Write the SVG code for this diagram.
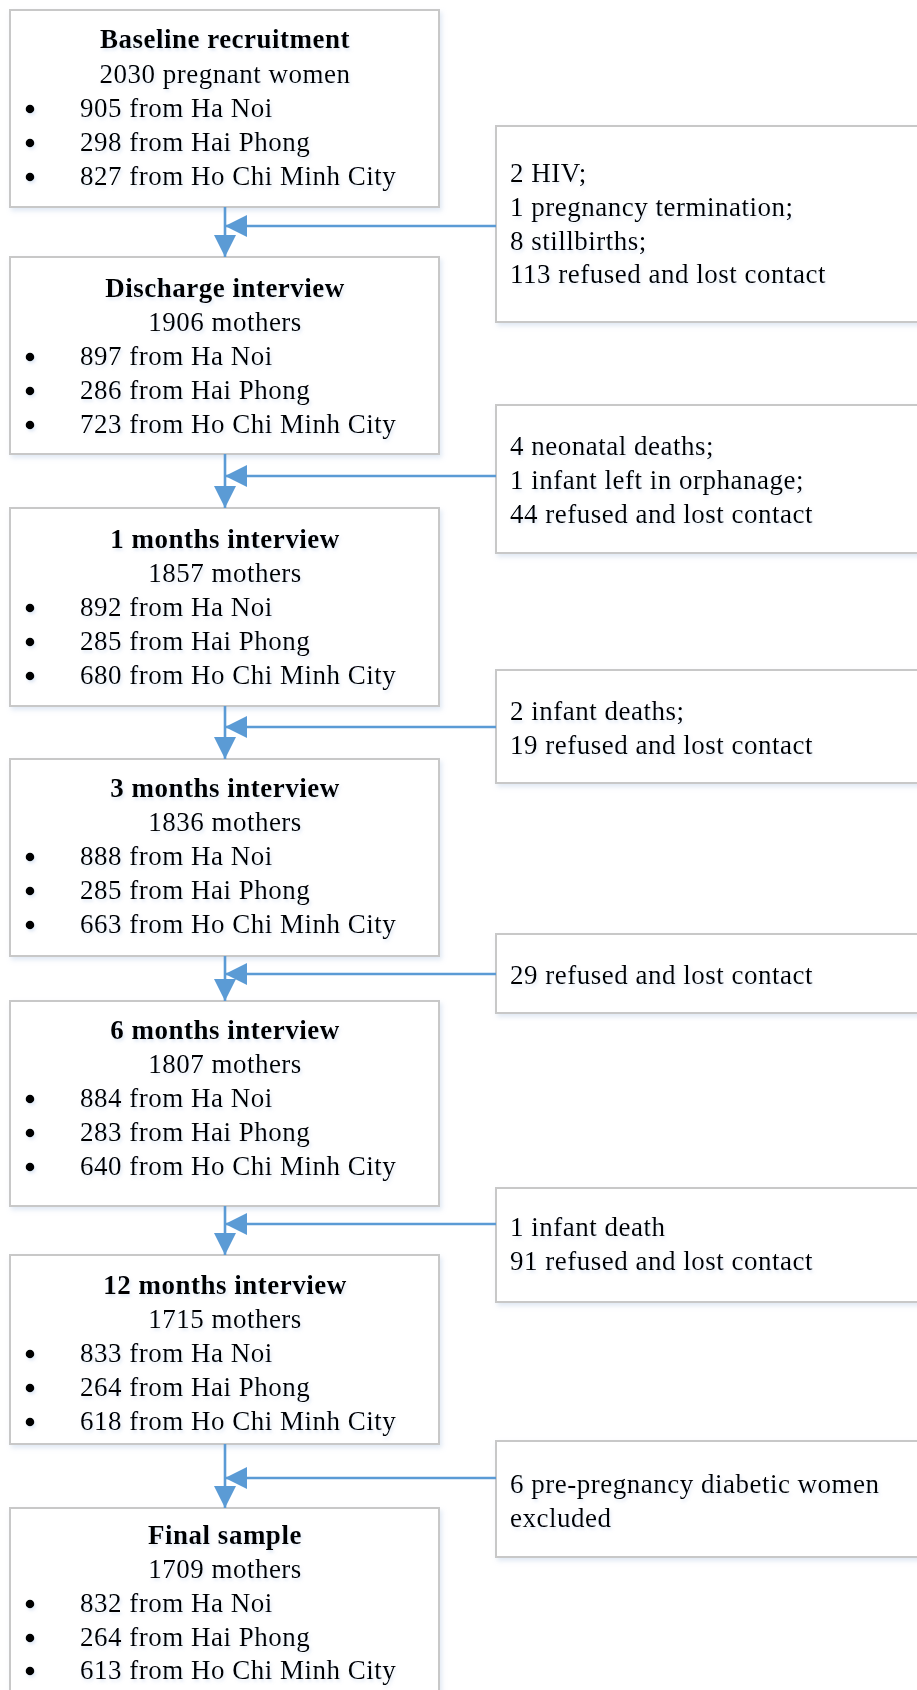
<svg xmlns="http://www.w3.org/2000/svg" width="917" height="1690" viewBox="0 0 917 1690">
<defs>
<filter id="sh" x="-5%" y="-5%" width="115%" height="115%">
<feDropShadow dx="2" dy="3" stdDeviation="2.5" flood-color="#a9c0e0" flood-opacity="0.35"/>
</filter>
<filter id="tsh" x="-5%" y="-20%" width="110%" height="150%">
<feDropShadow dx="1.5" dy="2.5" stdDeviation="1.5" flood-color="#9db8de" flood-opacity="0.3"/>
</filter>
<marker id="ah" viewBox="0 0 22 22" refX="22" refY="11" markerWidth="22" markerHeight="22" markerUnits="userSpaceOnUse" orient="auto">
<path d="M0,0 L22,11 L0,22 Z" fill="#5b9bd5"/>
</marker>
</defs>
<style>
.box{fill:#ffffff;stroke:#c8c8c8;stroke-width:2;filter:url(#sh)}
text{font-family:"Liberation Serif","Times New Roman",serif;font-size:27px;fill:#000;letter-spacing:0.5px}
.t{font-weight:bold;text-anchor:middle}
.c{text-anchor:middle}
.tx{filter:url(#tsh)}
.b{fill:#000}
.ln{stroke:#5b9bd5;stroke-width:2.6;fill:none}
</style>
<rect width="917" height="1690" fill="#ffffff"/>

<g id="baseline">
<rect class="box" x="10" y="10" width="429" height="197"/>
<g class="tx">
<text class="t" x="225" y="48">Baseline recruitment</text>
<text class="c" x="225" y="83">2030 pregnant women</text>
<circle class="b" cx="30" cy="109" r="4.3"/><text x="80" y="117">905 from Ha Noi</text>
<circle class="b" cx="30" cy="143" r="4.3"/><text x="80" y="151">298 from Hai Phong</text>
<circle class="b" cx="30" cy="177" r="4.3"/><text x="80" y="185">827 from Ho Chi Minh City</text>
</g>
</g>

<g id="discharge">
<rect class="box" x="10" y="257" width="429" height="197"/>
<g class="tx">
<text class="t" x="225" y="297">Discharge interview</text>
<text class="c" x="225" y="331">1906 mothers</text>
<circle class="b" cx="30" cy="357" r="4.3"/><text x="80" y="365">897 from Ha Noi</text>
<circle class="b" cx="30" cy="391" r="4.3"/><text x="80" y="399">286 from Hai Phong</text>
<circle class="b" cx="30" cy="425" r="4.3"/><text x="80" y="433">723 from Ho Chi Minh City</text>
</g>
</g>

<g id="m1">
<rect class="box" x="10" y="508" width="429" height="198"/>
<g class="tx">
<text class="t" x="225" y="548">1 months interview</text>
<text class="c" x="225" y="582">1857 mothers</text>
<circle class="b" cx="30" cy="608" r="4.3"/><text x="80" y="616">892 from Ha Noi</text>
<circle class="b" cx="30" cy="642" r="4.3"/><text x="80" y="650">285 from Hai Phong</text>
<circle class="b" cx="30" cy="676" r="4.3"/><text x="80" y="684">680 from Ho Chi Minh City</text>
</g>
</g>

<g id="m3">
<rect class="box" x="10" y="759" width="429" height="197"/>
<g class="tx">
<text class="t" x="225" y="797">3 months interview</text>
<text class="c" x="225" y="831">1836 mothers</text>
<circle class="b" cx="30" cy="857" r="4.3"/><text x="80" y="865">888 from Ha Noi</text>
<circle class="b" cx="30" cy="891" r="4.3"/><text x="80" y="899">285 from Hai Phong</text>
<circle class="b" cx="30" cy="925" r="4.3"/><text x="80" y="933">663 from Ho Chi Minh City</text>
</g>
</g>

<g id="m6">
<rect class="box" x="10" y="1001" width="429" height="205"/>
<g class="tx">
<text class="t" x="225" y="1039">6 months interview</text>
<text class="c" x="225" y="1073">1807 mothers</text>
<circle class="b" cx="30" cy="1099" r="4.3"/><text x="80" y="1107">884 from Ha Noi</text>
<circle class="b" cx="30" cy="1133" r="4.3"/><text x="80" y="1141">283 from Hai Phong</text>
<circle class="b" cx="30" cy="1167" r="4.3"/><text x="80" y="1175">640 from Ho Chi Minh City</text>
</g>
</g>

<g id="m12">
<rect class="box" x="10" y="1255" width="429" height="189"/>
<g class="tx">
<text class="t" x="225" y="1294">12 months interview</text>
<text class="c" x="225" y="1328">1715 mothers</text>
<circle class="b" cx="30" cy="1354" r="4.3"/><text x="80" y="1362">833 from Ha Noi</text>
<circle class="b" cx="30" cy="1388" r="4.3"/><text x="80" y="1396">264 from Hai Phong</text>
<circle class="b" cx="30" cy="1422" r="4.3"/><text x="80" y="1430">618 from Ho Chi Minh City</text>
</g>
</g>

<g id="final">
<rect class="box" x="10" y="1508" width="429" height="200"/>
<g class="tx">
<text class="t" x="225" y="1544">Final sample</text>
<text class="c" x="225" y="1578">1709 mothers</text>
<circle class="b" cx="30" cy="1604" r="4.3"/><text x="80" y="1612">832 from Ha Noi</text>
<circle class="b" cx="30" cy="1638" r="4.3"/><text x="80" y="1646">264 from Hai Phong</text>
<circle class="b" cx="30" cy="1671" r="4.3"/><text x="80" y="1679">613 from Ho Chi Minh City</text>
</g>
</g>

<g id="ex1">
<rect class="box" x="496" y="126" width="440" height="196"/>
<g class="tx">
<text x="510" y="182">2 HIV;</text>
<text x="510" y="216">1 pregnancy termination;</text>
<text x="510" y="250">8 stillbirths;</text>
<text x="510" y="283">113 refused and lost contact</text>
</g>
</g>

<g id="ex2">
<rect class="box" x="496" y="405" width="440" height="148"/>
<g class="tx">
<text x="510" y="455">4 neonatal deaths;</text>
<text x="510" y="489">1 infant left in orphanage;</text>
<text x="510" y="523">44 refused and lost contact</text>
</g>
</g>

<g id="ex3">
<rect class="box" x="496" y="670" width="440" height="113"/>
<g class="tx">
<text x="510" y="720">2 infant deaths;</text>
<text x="510" y="754">19 refused and lost contact</text>
</g>
</g>

<g id="ex4">
<rect class="box" x="496" y="934" width="440" height="79"/>
<g class="tx">
<text x="510" y="984">29 refused and lost contact</text>
</g>
</g>

<g id="ex5">
<rect class="box" x="496" y="1188" width="440" height="114"/>
<g class="tx">
<text x="510" y="1236">1 infant death</text>
<text x="510" y="1270">91 refused and lost contact</text>
</g>
</g>

<g id="ex6">
<rect class="box" x="496" y="1441" width="440" height="116"/>
<g class="tx">
<text x="510" y="1493">6 pre-pregnancy diabetic women</text>
<text x="510" y="1527">excluded</text>
</g>
</g>

<g id="connectors">
<line class="ln" x1="225" y1="207" x2="225" y2="257" marker-end="url(#ah)"/>
<line class="ln" x1="496" y1="226" x2="225" y2="226" marker-end="url(#ah)"/>
<line class="ln" x1="225" y1="454" x2="225" y2="508" marker-end="url(#ah)"/>
<line class="ln" x1="496" y1="476" x2="225" y2="476" marker-end="url(#ah)"/>
<line class="ln" x1="225" y1="706" x2="225" y2="759" marker-end="url(#ah)"/>
<line class="ln" x1="496" y1="727" x2="225" y2="727" marker-end="url(#ah)"/>
<line class="ln" x1="225" y1="956" x2="225" y2="1001" marker-end="url(#ah)"/>
<line class="ln" x1="496" y1="974" x2="225" y2="974" marker-end="url(#ah)"/>
<line class="ln" x1="225" y1="1206" x2="225" y2="1255" marker-end="url(#ah)"/>
<line class="ln" x1="496" y1="1224" x2="225" y2="1224" marker-end="url(#ah)"/>
<line class="ln" x1="225" y1="1444" x2="225" y2="1508" marker-end="url(#ah)"/>
<line class="ln" x1="496" y1="1478" x2="225" y2="1478" marker-end="url(#ah)"/>
</g>
</svg>
